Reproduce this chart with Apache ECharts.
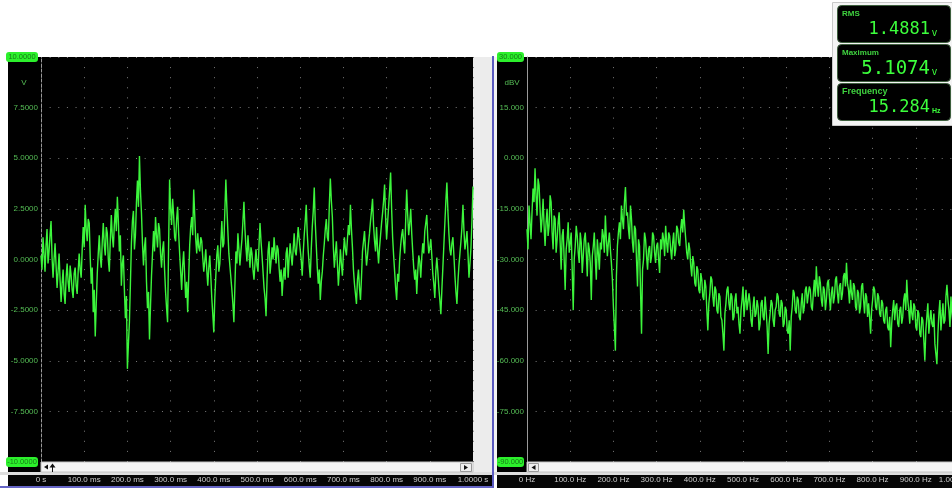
<!DOCTYPE html>
<html>
<head>
<meta charset="utf-8">
<script src="https://cdn.jsdelivr.net/npm/echarts@6/dist/echarts.min.js"></script>
<style>
  html, body { margin: 0; padding: 0; background: #fff; overflow: hidden; width: 952px; height: 488px; }
  #c { width: 1000px; height: 488px; }
</style>
</head>
<body>
<div id="c"></div>
<script>
// Axis tick labels
const timeTicks = ['0 s', '100.0 ms', '200.0 ms', '300.0 ms', '400.0 ms', '500.0 ms',
  '600.0 ms', '700.0 ms', '800.0 ms', '900.0 ms', '1.0000 s'];
const freqTicks = ['0 Hz', '100.0 Hz', '200.0 Hz', '300.0 Hz', '400.0 Hz', '500.0 Hz',
  '600.0 Hz', '700.0 Hz', '800.0 Hz', '900.0 Hz', '1.0000 kHz'];
const voltTicks = ['-10.0000', '-7.5000', '-5.0000', '-2.5000', '0.0000',
  '2.5000', '5.0000', '7.5000', '10.0000'];
const dbvTicks = ['-90.000', '-75.000', '-60.000', '-45.000', '-30.000',
  '-15.000', '0.000', '15.000', '30.000'];

// Time-domain capture, volts, evenly sampled over 0..1000 ms
const waveform = [
  0.2, -0.5, 1.1, 0.3, -0.6, 0.7, 1.5, -0.2, 0.4, 1.2, 1.9, 0.1, -0.9, 0.0, 0.8, -0.3, -1.4, -0.6, 0.3, -1.0,
  -2.1, -1.2, -0.5, -1.7, -2.2, -0.9, -0.2, -1.1, -1.6, -0.3, -0.8, -1.5, -1.9, -0.7, -0.4, -1.3, -1.7, -0.6, 0.3, -0.5,
  -0.9, 0.5, 1.6, 0.6, 2.7, 1.5, 0.9, 2.0, 1.8, 0.1, -1.2, -0.4, -2.6, -1.5, -3.8, -2.2, -0.7, 0.3, 1.2, 0.1,
  -0.4, 0.9, 1.8, 0.7, 0.2, 1.6, 1.3, 0.0, -0.6, 1.0, 2.2, 1.1, 0.6, 1.7, 2.5, 1.4, 3.1, 1.9, 0.4, 1.2,
  -1.3, -0.2, 0.2, -1.5, -2.9, -1.8, -5.4, -4.2, -3.1, -1.2, 0.8, 1.9, 2.4, 0.5, 1.2, 2.8, 3.9, 2.6, 5.1074, 3.4,
  2.3, 0.8, -0.3, 0.6, 1.1, -1.1, -2.4, -1.6, -3.95, -2.3, -0.8, 0.3, 1.4, 0.4, 2.1, 1.2, 0.6, 1.8, 1.5, 0.3,
  -0.4, 0.5, 0.9, -0.5, -1.6, -2.4, -3.1, 0.6, 3.95, 2.5, 1.7, 3.0, 2.2, 1.1, 0.9, 2.0, 2.6, 1.3, 0.3, -0.6,
  -1.5, -0.3, 0.4, -0.8, -1.9, -1.1, -2.6, -0.9, 0.7, 1.6, 2.1, 1.2, 3.45, 2.2, 1.0, 0.3, 1.3, 0.6, 0.4, 1.1,
  0.9, 0.1, -0.6, -0.1, 0.5, -0.5, -1.3, -0.4, 0.2, -0.8, -1.9, -2.7, -3.6, -1.9, -0.8, 0.2, 0.7, -0.6, -0.2, 0.8,
  1.9, 0.6, 0.8, 2.4, 3.95, 2.6, 1.4, 0.3, -0.3, -0.9, -1.5, -2.2, -3.1, -1.3, 0.4, -0.2, 1.3, 0.5, -0.3, 0.4,
  1.0, 1.9, 2.85, 1.5, 0.6, -0.1, 1.2, 0.4, -0.4, 0.6, 0.3, -0.5, -1.0, -0.2, 0.5, -0.3, -0.6, 0.7, 1.8, 0.9,
  0.2, -0.6, -1.4, -1.9, -2.8, -1.0, 0.4, 0.9, -0.7, -0.1, 0.6, 0.0, 1.1, 0.4, -0.2, 0.7, 0.5, -0.4, -1.1, -0.5,
  -1.8, -0.9, -0.4, -1.0, 0.3, 0.6, -0.9, 0.1, 0.8, 0.2, -0.3, 0.5, 1.3, 0.4, 0.2, 0.9, 1.6, 1.0, 0.5, 0.0,
  -0.8, 0.3, 1.2, 1.9, 2.7, 1.3, 0.4, -0.3, -0.9, 0.5, 1.6, 2.4, 3.55, 1.8, 0.7, -0.4, -1.2, -0.5, -2.0, -1.1,
  -0.6, 0.2, 0.8, 1.5, 2.0, 1.1, 0.9, 2.7, 4.0, 2.9, 2.1, 0.6, -0.4, 0.3, 0.9, -0.2, -1.3, -0.5, 0.5, -0.2,
  -0.8, 0.3, 1.1, 0.5, 0.2, 1.0, 1.7, 1.2, 2.7, 1.5, 0.6, -0.5, -1.2, -1.7, -2.2, -1.0, -0.5, -1.4, -2.0, -0.9,
  0.4, 0.9, 1.4, 0.5, -0.3, 0.2, 0.8, 1.3, 1.9, 2.4, 3.0, 1.7, 0.9, 0.4, 1.6, 0.5, -0.2, 0.6, 1.2, 1.8,
  2.3, 2.9, 3.7, 2.1, 1.0, 1.8, 2.6, 3.4, 4.3, 2.5, 1.1, 0.2, -0.6, -1.4, -2.0, -0.7, -1.1, 0.0, 0.7, 1.2,
  1.5, 0.8, 0.3, 1.9, 3.45, 2.2, 1.2, 1.8, 2.5, 1.3, 0.4, -0.4, -1.0, -0.5, -1.7, -0.6, 0.2, -0.1, -0.9, 0.1,
  0.8, 0.3, 1.4, 1.8, 2.2, 1.0, 0.3, 0.6, 1.0, 0.2, -0.7, -1.2, -1.9, -0.6, 0.1, -0.6, -1.4, -2.0, -2.7, -1.5,
  -0.4, 0.7, 1.8, 2.9, 3.8, 2.4, 1.3, 0.5, 0.2, 0.8, 1.1, 0.2, -0.8, -1.6, -2.2, -1.1, -0.3, 0.3, 0.9, 1.6,
  2.7, 1.4, 0.5, 0.9, 1.4, 0.3, -0.9, -0.2, 0.6, 2.0, 3.6
];

// Magnitude spectrum, dBV, evenly spaced over 0..1000 Hz
const spectrum = [
  -21, -27, -14, -19, -24, -16, -9, -13, -3, -11, -17, -6, -8, -15, -22, -18, -12, -20, -26, -19,
  -15, -23, -20, -11, -13, -22, -27, -17, -18, -28, -24, -19, -16, -25, -33, -23, -21, -30, -39, -27,
  -24, -19, -28, -25, -22, -33, -45, -30, -26, -20, -23, -28, -31, -22, -25, -34, -29, -24, -22, -28,
  -35, -25, -27, -31, -42, -29, -26, -22, -30, -36, -24, -28, -33, -25, -27, -21, -23, -28, -17, -24,
  -29, -25, -22, -27, -31, -36, -44, -50, -57, -35, -26, -22, -19, -24, -14, -18, -21, -13, -8.5, -17,
  -16, -21, -24, -14, -18, -25, -28, -20, -21, -30, -38, -24, -26, -39, -52, -33, -30, -22, -24, -29,
  -33, -27, -26, -31, -29, -22, -23, -28, -31, -26, -25, -30, -34, -24, -27, -22, -24, -29, -20, -25,
  -28, -22, -23, -27, -30, -25, -22, -29, -27, -20, -21, -25, -26, -21, -18, -22, -15.3, -20, -24, -28,
  -30, -25, -27, -32, -35, -29, -31, -37, -38, -32, -33, -39, -40, -34, -36, -41, -42, -36, -38, -45,
  -51, -43, -40, -35, -36, -41, -44, -38, -39, -45, -46, -40, -41, -47, -48, -52, -57, -46, -43, -39,
  -38, -43, -45, -40, -41, -48, -47, -42, -40, -46, -44, -49, -52, -45, -42, -38, -47, -43, -39, -45,
  -45, -40, -43, -48, -50, -44, -41, -47, -46, -42, -44, -51, -49, -43, -42, -47, -48, -41, -45, -50,
  -58, -49, -46, -42, -43, -48, -50, -45, -44, -40, -41, -46, -47, -42, -43, -50, -49, -44, -45, -51,
  -52, -48, -57, -47, -44, -39, -40, -45, -46, -41, -42, -47, -48, -43, -40, -46, -44, -39, -38, -43,
  -43, -38, -39, -44, -45, -40, -36, -41, -32, -38, -41, -35, -37, -42, -44, -38, -39, -45, -42, -37,
  -36, -41, -45, -40, -38, -43, -41, -36, -35, -40, -43, -38, -37, -42, -40, -35, -34, -38, -31, -37,
  -39, -43, -36, -40, -42, -37, -38, -44, -45, -39, -40, -46, -44, -38, -37, -42, -46, -40, -41, -47,
  -43, -47, -52, -45, -42, -38, -39, -44, -45, -40, -41, -46, -47, -42, -43, -48, -49, -45, -44, -50,
  -51, -47, -56, -49, -45, -42, -48, -44, -43, -49, -50, -45, -44, -49, -47, -42, -40, -45, -36, -42,
  -45, -49, -42, -46, -48, -43, -44, -50, -51, -45, -46, -52, -53, -47, -48, -54, -60, -51, -47, -43,
  -52, -48, -45, -49, -50, -46, -55, -58, -61, -52, -46, -42, -51, -47, -43, -49, -48, -41, -37.5, -42,
  -45, -50, -41, -46, -49, -43, -44, -50, -47, -42, -43
];

// Measurement readouts
const readoutNames = ['RMS', 'Maximum', 'Frequency'];
const readoutValues = ['1.4881', '5.1074', '15.284'];
const readoutUnits = ['v', 'v', 'Hz'];

const TRACE = '#3cf53c';
const LABEL_GREEN = '#55bd55';
const FONT = 'Liberation Sans';

function tickLabel(list, min, step) {
  return function (v) {
    const i = Math.round((v - min) / step);
    const s = list[i];
    if (s === undefined) return '';
    return (i === 0 || i === list.length - 1) ? '{badge|' + s + '}' : s;
  };
}
function plainTick(list, step) {
  return function (v) {
    const s = list[Math.round(v / step)];
    return s === undefined ? '' : s;
  };
}

const tStep = 1000 / (waveform.length - 1);
const fStep = 1000 / (spectrum.length - 1);

function xAxisCfg(grid, list) {
  return {
    type: 'value', gridIndex: grid, min: 0, max: 1000, interval: 100,
    axisLine: { show: false }, axisTick: { show: false },
    axisLabel: {
      color: '#cfcfcf', fontSize: 8, fontFamily: FONT, margin: 14,
      showMinLabel: true, showMaxLabel: true, formatter: plainTick(list, 100)
    },
    splitLine: { show: true, lineStyle: { color: '#7a7a7a', width: 1, type: [1, 9.1] } }
  };
}
function yAxisCfg(grid, list, min, max, step, lineType, badgeWidth, margin) {
  return {
    type: 'value', gridIndex: grid, min: min, max: max, interval: step,
    axisLine: { show: true, lineStyle: { color: '#9a9a9a', width: 1, type: lineType } },
    axisTick: { show: false },
    axisLabel: {
      color: LABEL_GREEN, fontSize: 8, fontFamily: FONT, margin: margin,
      showMinLabel: true, showMaxLabel: true,
      formatter: tickLabel(list, min, step),
      rich: {
        badge: {
          backgroundColor: '#2cf02c', color: '#177a17', fontSize: 7.5, fontFamily: FONT,
          borderRadius: 3, padding: [1, 1, 1, 1], width: badgeWidth, align: 'center'
        }
      }
    },
    splitLine: { show: true, lineStyle: { color: '#7a7a7a', width: 1, type: [1, 7.64] } }
  };
}

// Instrument frame: label columns, gaps, scrollbars, label bands
const frame = [
  { type: 'rect', shape: { x: 8, y: 57, width: 33, height: 415 }, style: { fill: '#000' }, z: -5 },
  { type: 'rect', shape: { x: 497, y: 57, width: 30, height: 415 }, style: { fill: '#000' }, z: -5 },
  { type: 'rect', shape: { x: 473, y: 57, width: 19, height: 418 }, style: { fill: '#ececec' }, z: -5 },
  { type: 'rect', shape: { x: 494, y: 57, width: 3, height: 418 }, style: { fill: '#f3f3f3' }, z: -5 },
  { type: 'rect', shape: { x: 0, y: 472, width: 1000, height: 3 }, style: { fill: '#dedede' }, z: -5 },
  { type: 'rect', shape: { x: 8, y: 475, width: 484, height: 11 }, style: { fill: '#060606' }, z: -5 },
  { type: 'rect', shape: { x: 497, y: 475, width: 503, height: 13 }, style: { fill: '#060606' }, z: -5 },
  { type: 'rect', shape: { x: 0, y: 486, width: 494, height: 2 }, style: { fill: '#6666c6' }, z: -5 },
  { type: 'rect', shape: { x: 492, y: 56, width: 2, height: 432 }, style: { fill: '#5a5ac0' }, z: 5 },

  // scrollbars
  { type: 'rect', shape: { x: 41, y: 462, width: 432, height: 10 }, style: { fill: '#f5f5f5', stroke: '#c4c4c4', lineWidth: 1 }, z: 5 },
  { type: 'polygon', shape: { points: [[44, 467], [48, 464.5], [48, 469.5]] }, style: { fill: '#111' }, z: 6 },
  { type: 'polygon', shape: { points: [[49.5, 467.5], [52.5, 463.5], [55.5, 467.5]] }, style: { fill: '#111' }, z: 6 },
  { type: 'line', shape: { x1: 52.5, y1: 467, x2: 52.5, y2: 472 }, style: { stroke: '#111', lineWidth: 1 }, z: 6 },
  { type: 'rect', shape: { x: 460.5, y: 463.5, width: 11, height: 8 }, style: { fill: '#eeeeee', stroke: '#9a9a9a', lineWidth: 1 }, z: 6 },
  { type: 'polygon', shape: { points: [[464, 465], [468, 467.5], [464, 470]] }, style: { fill: '#111' }, z: 7 },
  { type: 'rect', shape: { x: 527, y: 462, width: 480, height: 10 }, style: { fill: '#f5f5f5', stroke: '#c4c4c4', lineWidth: 1 }, z: 5 },
  { type: 'rect', shape: { x: 528.5, y: 463.5, width: 10, height: 8 }, style: { fill: '#eeeeee', stroke: '#9a9a9a', lineWidth: 1 }, z: 6 },
  { type: 'polygon', shape: { points: [[531.5, 467.5], [535.5, 465], [535.5, 470]] }, style: { fill: '#111' }, z: 7 },

  // unit captions
  { type: 'text', style: { x: 24, y: 83, text: 'V', fill: LABEL_GREEN, font: '8px ' + FONT, align: 'center', verticalAlign: 'middle' }, z: 5 },
  { type: 'text', style: { x: 512, y: 83, text: 'dBV', fill: LABEL_GREEN, font: '8px ' + FONT, align: 'center', verticalAlign: 'middle' }, z: 5 },

  // readout panel
  { type: 'rect', shape: { x: 832.5, y: 2.5, width: 125, height: 123 }, style: { fill: '#f4f4f4', stroke: '#c8c8c8', lineWidth: 1 }, z: 100 }
];

const boxTops = [5, 44, 83];
const valueSizes = [17, 19, 17];
readoutNames.forEach(function (name, i) {
  const top = boxTops[i];
  frame.push({ type: 'rect', shape: { x: 837.5, y: top + 0.5, width: 113, height: 37, r: 4 },
    style: { fill: '#000', stroke: '#3d5f3d', lineWidth: 1 }, z: 101 });
  frame.push({ type: 'text', style: { x: 842, y: top + 9, text: name, fill: '#3fd23f',
    font: 'bold ' + (i === 2 ? 9 : 8) + 'px ' + FONT, verticalAlign: 'middle' }, z: 102 });
  frame.push({ type: 'text', style: { x: 930, y: top + 25, text: readoutValues[i], fill: '#3cff3c',
    font: valueSizes[i] + 'px "DejaVu Sans Mono"', align: 'right', verticalAlign: 'middle' }, z: 102 });
  frame.push({ type: 'text', style: { x: 932, y: top + 28, text: readoutUnits[i], fill: '#3cff3c',
    font: (readoutUnits[i] === 'Hz' ? 'bold 7px ' : '10px ') + FONT, align: 'left', verticalAlign: 'middle' }, z: 102 });
});

const chart = echarts.init(document.getElementById('c'), null, { renderer: 'canvas' });
chart.setOption({
  animation: false,
  backgroundColor: '#ffffff',
  grid: [
    { left: 41, top: 57, width: 432, height: 405, show: true, backgroundColor: '#000', borderWidth: 0 },
    { left: 527, top: 57, width: 432, height: 405, show: true, backgroundColor: '#000', borderWidth: 0 }
  ],
  xAxis: [xAxisCfg(0, timeTicks), xAxisCfg(1, freqTicks)],
  yAxis: [
    yAxisCfg(0, voltTicks, -10, 10, 2.5, [3, 2], 30, 3),
    yAxisCfg(1, dbvTicks, -90, 30, 15, 'solid', 25, 3)
  ],
  series: [
    {
      type: 'line', xAxisIndex: 0, yAxisIndex: 0, showSymbol: false, clip: true,
      lineStyle: { color: TRACE, width: 1.4 },
      data: waveform.map(function (v, i) { return [i * tStep, v]; })
    },
    {
      type: 'line', xAxisIndex: 1, yAxisIndex: 1, showSymbol: false, clip: true,
      lineStyle: { color: TRACE, width: 1.4 },
      data: spectrum.map(function (v, i) { return [i * fStep, v]; })
    }
  ],
  graphic: frame
});
</script>
</body>
</html>
